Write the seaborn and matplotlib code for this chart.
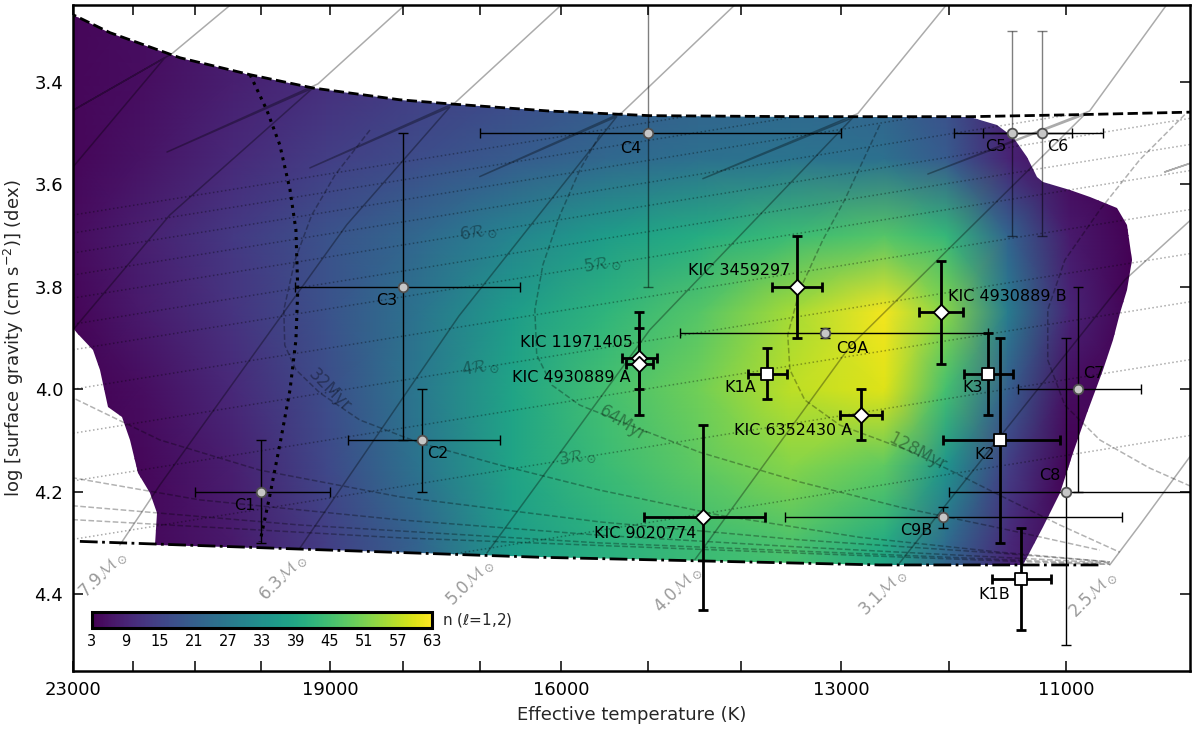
import numpy as np
import matplotlib
matplotlib.use("Agg")
import matplotlib.pyplot as plt
from matplotlib.patches import Polygon
from matplotlib.ticker import FixedLocator, FixedFormatter, NullLocator
import seaborn as sns

# ---------------------------------------------------------------- data
star_names = ["C1", "C2", "C3", "C4", "C5", "C6", "C7", "C8", "C9A", "C9B",
              "K1A", "K1B", "K2", "K3",
              "KIC 3459297", "KIC 4930889 B", "KIC 11971405", "KIC 4930889 A",
              "KIC 6352430 A", "KIC 9020774"]
star_teff = [20000, 17750, 18000, 15000, 11450, 11200, 10900, 11000, 13150, 12050,
             13730, 11370, 11550, 11650,
             13430, 12070, 15100, 15100, 12810, 14400]
star_teff_err = [1000, 1000, 1500, 2000, 500, 500, 500, 1000, 1500, 1500,
                 200, 250, 500, 210,
                 250, 200, 200, 150, 200, 650]
star_logg = [4.20, 4.10, 3.80, 3.50, 3.50, 3.50, 4.00, 4.20, 3.89, 4.25,
             3.97, 4.37, 4.10, 3.97,
             3.80, 3.85, 3.94, 3.95, 4.05, 4.25]
star_logg_err = [0.10, 0.10, 0.30, 0.30, 0.20, 0.20, 0.20, 0.30, 0.01, 0.02,
                 0.05, 0.10, 0.20, 0.08,
                 0.10, 0.10, 0.06, 0.10, 0.05, 0.18]
star_group = ["C"] * 10 + ["K"] * 4 + ["KIC"] * 6

# number of l=1,2 modes (rows: log g, cols: log Teff)
field_logteff = [4.38, 4.36, 4.34, 4.31, 4.28, 4.25, 4.22, 4.19, 4.16, 4.13,
                 4.10, 4.08, 4.06, 4.04, 4.02, 4.00]
field_logg = [3.25, 3.40, 3.55, 3.70, 3.85, 4.00, 4.15, 4.30, 4.36]
field_n = [
    [3, 4, 5, 7, 10, 13, 16, 18, 20, 21, 21, 17, 8, 4, 3, 3],
    [3, 4, 5, 8, 11, 14, 16, 19, 21, 22, 21, 17, 8, 4, 3, 3],
    [3, 4, 6, 10, 14, 17, 20, 23, 25, 26, 25, 20, 9, 4, 3, 3],
    [3, 5, 8, 13, 18, 23, 30, 36, 40, 44, 47, 43, 22, 7, 3, 3],
    [3, 4, 7, 12, 18, 26, 36, 42, 47, 55, 62, 52, 28, 9, 3, 3],
    [3, 3, 5, 10, 17, 27, 38, 45, 50, 57, 60, 45, 21, 5, 3, 3],
    [3, 3, 4, 8, 16, 26, 38, 44, 48, 52, 48, 34, 14, 3, 3, 3],
    [3, 3, 4, 7, 14, 22, 36, 41, 44, 46, 40, 24, 10, 3, 3, 3],
    [3, 3, 4, 7, 14, 22, 36, 41, 44, 45, 38, 22, 9, 3, 3, 3],
]

# outline of the computed grid (colour map domain)
region_logteff = [4.42, 4.3617, 4.3498, 4.3272, 4.3046, 4.2843, 4.2563, 4.2401, 4.2079, 4.1756, 4.1272, 4.0724,
                  4.0636, 4.0585, 4.0540, 4.0508, 4.0488, 4.0401, 4.0337, 4.0250, 4.0217, 4.0201, 4.0217,
                  4.0240, 4.0262, 4.0295, 4.0346, 4.0392, 4.0433, 4.0488, 4.0553,
                  4.1014, 4.2111, 4.2885, 4.3353,
                  4.3346, 4.3369, 4.3408, 4.3434, 4.3459, 4.3505, 4.3530, 4.3553, 4.3605, 4.3617, 4.42]
region_logg = [3.10, 3.269, 3.304, 3.353, 3.386, 3.412, 3.435, 3.443, 3.457, 3.466, 3.468, 3.468,
               3.484, 3.507, 3.546, 3.585, 3.595, 3.611, 3.625, 3.646, 3.679, 3.748, 3.806,
               3.851, 3.904, 3.962, 4.046, 4.124, 4.203, 4.269, 4.343,
               4.343, 4.328, 4.312, 4.304,
               4.242, 4.203, 4.164, 4.099, 4.054, 4.035, 3.962, 3.923, 3.890, 3.880, 3.86]

# TAMS (dashed) and ZAMS (dash-dot) boundaries
tams_logteff = [4.42, 4.3617, 4.3498, 4.3272, 4.3046, 4.2843, 4.2563, 4.2401, 4.2079, 4.1756,
                4.1272, 4.0724, 4.0369, 4.0001, 3.98]
tams_logg = [3.10, 3.269, 3.304, 3.353, 3.386, 3.412, 3.435, 3.443, 3.457, 3.466,
             3.468, 3.468, 3.464, 3.459, 3.456]
zams_logteff = [4.3595, 4.2885, 4.2111, 4.1014, 4.0295]
zams_logg = [4.297, 4.312, 4.328, 4.343, 4.343]

# dotted boundary
edge_logteff = [4.3046, 4.2992, 4.2950, 4.2917, 4.2898, 4.2892, 4.2898, 4.2917, 4.2947, 4.2982, 4.3014]
edge_logg = [3.386, 3.455, 3.523, 3.611, 3.689, 3.806, 3.904, 4.001, 4.099, 4.207, 4.298]

# evolutionary tracks
track_labels = ["", "", "7.9", "6.3", "5.0", "4.0", "3.1", "2.5"]
track_logteff = [
    [4.4047, 4.3617, 4.3321, 4.3659, 4.3298, 4.3050],
    [4.4143, 4.3617, 4.3305, 4.2843, 4.3314, 4.2827, 4.2492],
    [4.3466, 4.3337, 4.2734, 4.2401, 4.2853, 4.2385, 4.1988],
    [4.2885, 4.2372, 4.1863, 4.2305, 4.1846, 4.1430],
    [4.2282, 4.1756, 4.1101, 4.1585, 4.1085, 4.0759],
    [4.1611, 4.1111, 4.0353, 4.0859, 4.0337, 4.0053],
    [4.0950, 4.0224, 3.9692, 4.0095, 3.9660, 3.9400],
    [4.0272, 4.0175, 4.0004, 3.9659],
]
track_logg = [
    [3.884, 3.566, 3.353, 3.470, 3.345, 3.220],
    [4.304, 3.884, 3.660, 3.412, 3.537, 3.404, 3.220],
    [4.304, 4.187, 3.679, 3.449, 3.568, 3.441, 3.220],
    [4.310, 3.857, 3.468, 3.585, 3.460, 3.220],
    [4.320, 3.884, 3.470, 3.589, 3.462, 3.220],
    [4.333, 3.917, 3.464, 3.580, 3.457, 3.220],
    [4.339, 3.787, 3.494, 3.576, 3.485, 3.300],
    [4.343, 4.265, 4.124, 3.826],
]

# isochrones
iso_logteff = [
    [4.2659, 4.2772, 4.2847, 4.2901, 4.2937, 4.2934, 4.2898, 4.2821, 4.2692, 4.2498, 4.2240, 4.1917, 4.1530, 4.1079, 4.0627, 4.0272],
    [4.1917, 4.1982, 4.2046, 4.2101, 4.2127, 4.2121, 4.2072, 4.1982, 4.1821, 4.1595, 4.1272, 4.0950, 4.0627, 4.0304],
    [4.1014, 4.1127, 4.1198, 4.1272, 4.1311, 4.1304, 4.1256, 4.1143, 4.1014, 4.0908, 4.0788, 4.0627, 4.0433, 4.0240],
    [4.0030, 4.0175, 4.0304, 4.0417, 4.0472, 4.0472, 4.0417, 4.0304, 4.0143, 3.9982],
    [4.3724, 4.3617, 4.3337, 4.3014, 4.2563, 4.1917, 4.1272, 4.0627, 4.0272],
    [4.3724, 4.3617, 4.3208, 4.2563, 4.1917, 4.1272, 4.0627, 4.0272],
    [4.3724, 4.2885, 4.1917, 4.0950, 4.0272],
    [4.3724, 4.2563, 4.1272, 4.0272],
]
iso_logg = [
    [3.494, 3.582, 3.660, 3.748, 3.845, 3.914, 3.962, 4.007, 4.060, 4.105, 4.148, 4.197, 4.246, 4.289, 4.318, 4.337],
    [3.503, 3.572, 3.660, 3.757, 3.845, 3.933, 3.992, 4.031, 4.070, 4.123, 4.181, 4.230, 4.271, 4.314],
    [3.484, 3.630, 3.709, 3.806, 3.894, 3.962, 4.021, 4.070, 4.099, 4.123, 4.158, 4.207, 4.265, 4.318],
    [3.464, 3.552, 3.650, 3.748, 3.845, 3.943, 4.031, 4.099, 4.154, 4.197],
    [3.982, 4.017, 4.099, 4.158, 4.210, 4.259, 4.294, 4.320, 4.337],
    [4.158, 4.173, 4.216, 4.255, 4.285, 4.308, 4.328, 4.339],
    [4.222, 4.265, 4.300, 4.324, 4.341],
    [4.251, 4.290, 4.320, 4.343],
]
iso_label_text = ["32Myr", "64Myr", "128Myr"]
iso_label_logteff = [4.2788, 4.1843, 4.0895]
iso_label_logg = [4.0015, 4.0659, 4.1226]

# iso-radius lines
radius_values = [8, 7.5, 7, 6.5, 6, 5.5, 5, 4.5, 4, 3.5, 3, 2.5]
radius_teff_ends = [23000, 10000]
radius_logg_hot = [3.660, 3.695, 3.734, 3.777, 3.822, 3.873, 3.923, 4.000, 4.086, 4.179, 4.293, 4.441]
radius_logg_cool = [3.308, 3.343, 3.382, 3.425, 3.470, 3.521, 3.572, 3.648, 3.734, 3.828, 3.941, 4.089]
radius_label_text = ["6", "5", "4", "3"]
radius_label_logteff = [4.2311, 4.1911, 4.2305, 4.1992]
radius_label_logg = [3.695, 3.757, 3.958, 4.134]

cbar_ticks = [3, 9, 15, 21, 27, 33, 39, 45, 51, 57, 63]
xtick_values = [23000, 22000, 21000, 20000, 19000, 18000, 17000, 16000, 15000, 14000, 13000, 12000, 11000]
xtick_shown = [23000, 19000, 16000, 13000, 11000]
ytick_values = [3.4, 3.6, 3.8, 4.0, 4.2, 4.4]

# ---------------------------------------------------------------- style
sns.set_style("ticks")
plt.rcParams.update({
    "font.family": ["DejaVu Sans"],
    "mathtext.fontset": "custom",
    "mathtext.rm": "DejaVu Sans",
    "mathtext.it": "DejaVu Sans:italic",
    "mathtext.bf": "DejaVu Sans:bold",
    "mathtext.cal": "cmsy10",
    "axes.linewidth": 1.8,
    "axes.edgecolor": "black",
})

fig = plt.figure(figsize=(12, 7.32), dpi=100)
ax = fig.add_axes([73 / 1200, 1 - 671 / 732, (1190 - 73) / 1200, (671 - 5) / 732])
ax.set_xscale("log")

def T(a):
    return 10 ** np.asarray(a, float)

# colour map clipped to the grid domain
LT, LG = np.meshgrid(field_logteff, field_logg)
mesh = ax.pcolormesh(T(LT), LG, np.array(field_n, float), shading="gouraud",
                     cmap="viridis", vmin=3, vmax=63, zorder=1, rasterized=True)
region = Polygon(np.column_stack([T(region_logteff), region_logg]), closed=True,
                 transform=ax.transData)
mesh.set_clip_path(region)

# main-sequence band for clipping reference lines
band_x = np.concatenate([T(tams_logteff), [T(3.98)], T(zams_logteff)[::-1], [T(4.42)]])
band_y = np.concatenate([tams_logg, [4.343], zams_logg[::-1], [4.285]])
band = Polygon(np.column_stack([band_x, band_y]), closed=True, transform=ax.transData)

# iso-radius dotted lines
for r, g1, g2 in zip(radius_values, radius_logg_hot, radius_logg_cool):
    ln, = ax.plot(radius_teff_ends, [g1, g2], ls=":", lw=1.1, color="k", alpha=0.33, zorder=2)
    ln.set_clip_path(band)
for txt, lt, lg in zip(radius_label_text, radius_label_logteff, radius_label_logg):
    ax.text(T(lt), lg, txt + r"$\mathcal{R}_\odot$", rotation=9, fontsize=12, color="k",
            alpha=0.33, ha="center", va="center", zorder=2)

# isochrones
for lt, lg in zip(iso_logteff, iso_logg):
    ln, = ax.plot(T(lt), lg, ls="--", lw=1.1, color="k", alpha=0.3, zorder=2)
    ln.set_clip_path(band)
for txt, lt, lg, rot in zip(iso_label_text, iso_label_logteff, iso_label_logg, [-45, -32, -28]):
    ax.text(T(lt), lg, txt, rotation=rot, fontsize=12, color="k", alpha=0.35,
            ha="center", va="center", zorder=2)

# evolutionary tracks
for lab, lt, lg in zip(track_labels, track_logteff, track_logg):
    ax.plot(T(lt), lg, ls="-", lw=1.1, color="k", alpha=0.33, zorder=2)
    if lab:
        ax.annotate(lab + r"$\mathcal{M}_\odot$", (T(lt[0]), lg[0]), xytext=(-12, -21),
                    textcoords="offset points", rotation=45, ha="center", va="center",
                    fontsize=12, color="#9a9a9a", zorder=2)

# boundaries
ax.plot(T(tams_logteff), tams_logg, ls="--", lw=2.0, color="k", zorder=3)
ax.plot(T(zams_logteff), zams_logg, ls="-.", lw=2.0, color="k", zorder=3)
ax.plot(T(edge_logteff), edge_logg, ls=":", lw=2.2, color="k", zorder=3)

# error bars
faint_vertical = {"C4", "C5", "C6"}
for i, name in enumerate(star_names):
    thin = star_group[i] == "C"
    lw = 1.0 if thin else 2.0
    ax.errorbar(star_teff[i], star_logg[i], xerr=star_teff_err[i], fmt="none", ecolor="k",
                elinewidth=lw, capsize=3.5, capthick=lw, zorder=4)
    ax.errorbar(star_teff[i], star_logg[i], yerr=star_logg_err[i], fmt="none", ecolor="k",
                elinewidth=lw, capsize=3.5, capthick=lw, zorder=4,
                alpha=0.5 if name in faint_vertical else 1.0)

# markers (seaborn)
teff_arr = np.array(star_teff, float)
logg_arr = np.array(star_logg, float)
for grp, mk, sz, fc, ec in [("C", "o", 48, "#c6c6c6", "#505050"),
                            ("K", "s", 85, "white", "black"),
                            ("KIC", "D", 62, "white", "black")]:
    idx = [i for i, g in enumerate(star_group) if g == grp]
    sns.scatterplot(x=teff_arr[idx], y=logg_arr[idx], marker=mk, s=sz, color=fc,
                    edgecolor=ec, linewidth=1.3, zorder=6, ax=ax, legend=False)

# star labels
label_style = {
    "C1": ("right", -4, -10), "C2": ("left", 4, -9.5), "C3": ("right", -4, -10),
    "C4": ("right", -5, -11), "C5": ("right", -4, -10), "C6": ("left", 4, -10),
    "C7": ("left", 4, 11.5), "C8": ("right", -4, 12), "C9A": ("left", 8, -11),
    "C9B": ("right", -8, -9.5), "K1A": ("right", -8, -10), "K1B": ("right", -8, -11),
    "K2": ("right", -4, -10), "K3": ("right", -4, -10),
    "KIC 3459297": ("right", -5, 11.5), "KIC 4930889 B": ("left", 5, 11.5),
    "KIC 11971405": ("right", -5, 11.5), "KIC 4930889 A": ("right", -6, -10),
    "KIC 6352430 A": ("right", -6, -11), "KIC 9020774": ("right", -5, -11.5),
}
for i, name in enumerate(star_names):
    ha, dx, dy = label_style[name]
    ax.annotate(name, (star_teff[i], star_logg[i]), xytext=(dx, dy), textcoords="offset points",
                ha=ha, va="center", fontsize=11.5, color="black", zorder=7)

# axes
ax.set_xlim(23000, 10030)
ax.set_ylim(4.55, 3.25)
ax.xaxis.set_major_locator(FixedLocator(xtick_values))
ax.xaxis.set_major_formatter(FixedFormatter([str(v) if v in xtick_shown else "" for v in xtick_values]))
ax.xaxis.set_minor_locator(NullLocator())
ax.yaxis.set_major_locator(FixedLocator(ytick_values))
ax.yaxis.set_major_formatter(FixedFormatter([f"{v:.1f}" for v in ytick_values]))
ax.yaxis.set_minor_locator(NullLocator())
ax.tick_params(which="both", direction="in", top=True, right=True, length=7, width=1.1,
               labelsize=13, pad=7, colors="black")
ax.set_xlabel("Effective temperature (K)", fontsize=13, labelpad=5)
ax.set_ylabel(r"log [surface gravity (cm s$^{-2}$)] (dex)", fontsize=13, labelpad=6)
for sp in ax.spines.values():
    sp.set_visible(True)
    sp.set_linewidth(1.8)

# colour bar inset
cax = fig.add_axes([92 / 1200, 1 - 628 / 732, 340 / 1200, 16 / 732])
cb = fig.colorbar(mesh, cax=cax, orientation="horizontal", ticks=cbar_ticks)
cb.outline.set_linewidth(2.2)
cax.tick_params(direction="in", length=5.5, width=1.0, labelsize=10.5, pad=4, colors="black")
cax.text(1.03, 0.5, r"n ($\ell$=1,2)", transform=cax.transAxes, ha="left", va="center", fontsize=11)

fig.savefig("out.png", dpi=100)
